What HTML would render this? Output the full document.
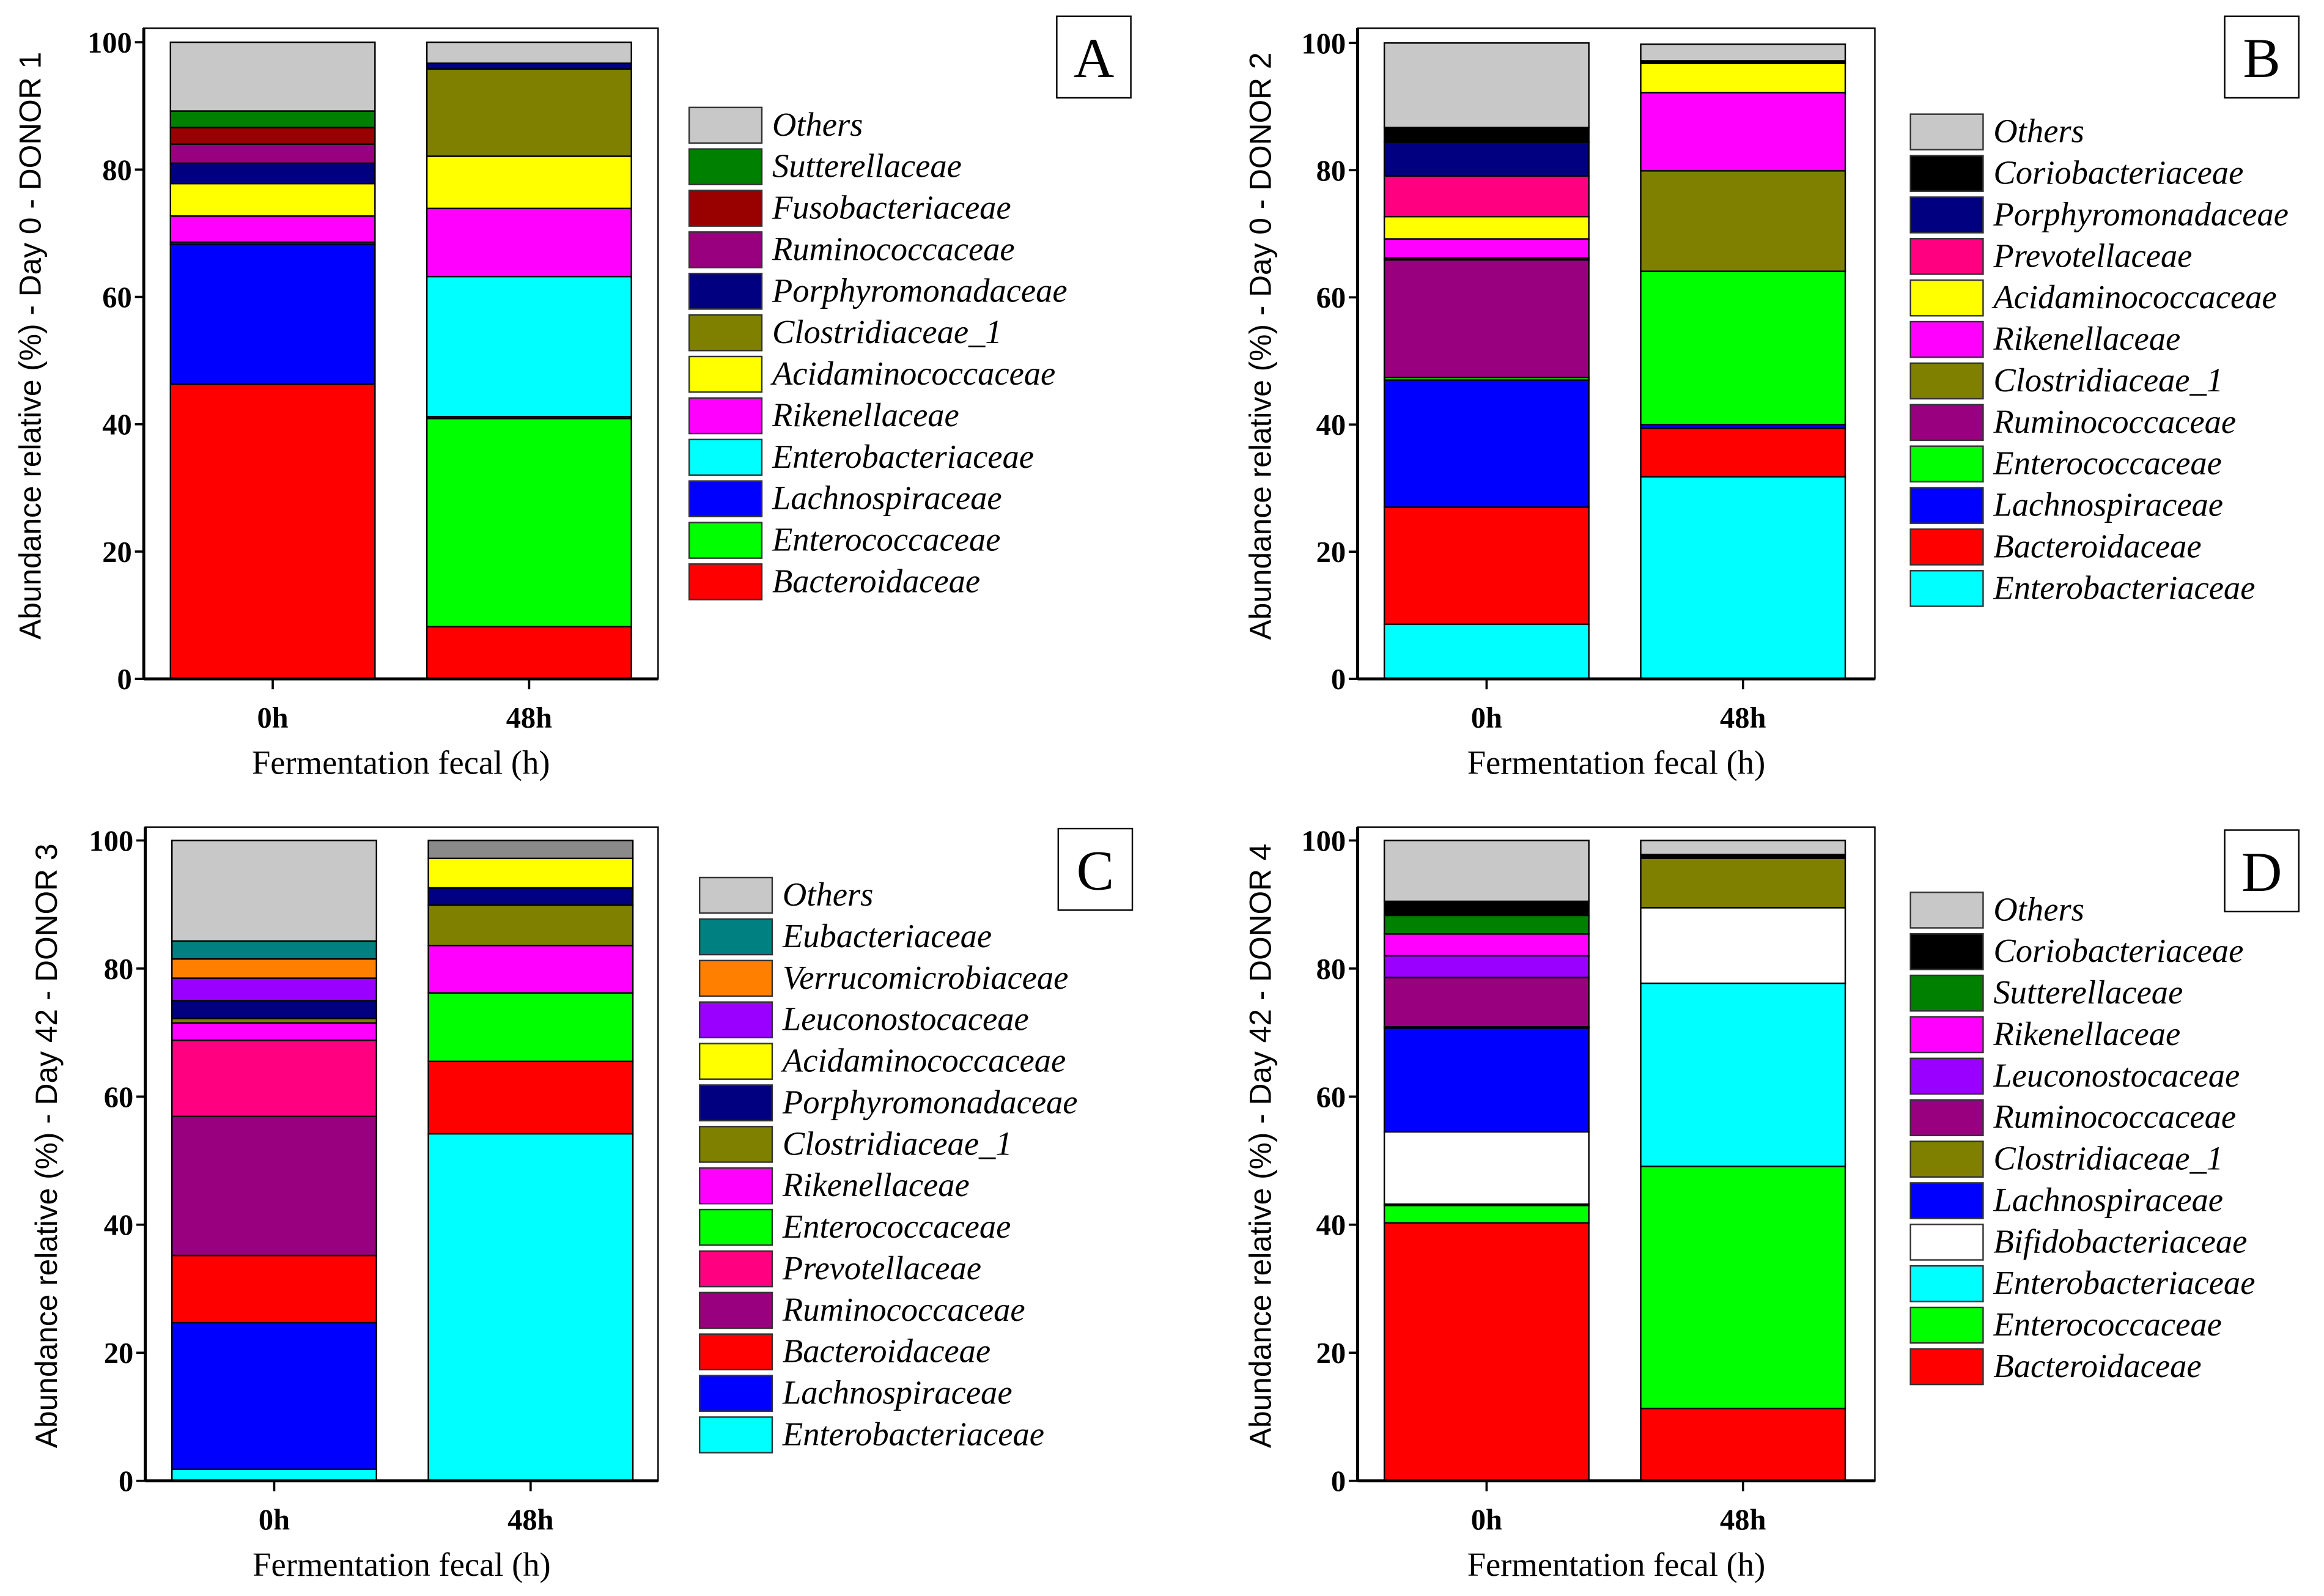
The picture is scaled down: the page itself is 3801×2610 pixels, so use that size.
<!DOCTYPE html>
<html><head><meta charset="utf-8"><style>
html,body{margin:0;padding:0;background:#fff;}
svg{display:block;}
</style></head><body>
<svg id="fig" xmlns="http://www.w3.org/2000/svg" width="3801" height="2610" viewBox="0 0 1568 1076.7">
<rect x="0" y="0" width="1568" height="1076.7" fill="#fff"/>
</svg>
<script>
const COLORS = {
  "Others":"#c8c8c8","Sutterellaceae":"#008000","Fusobacteriaceae":"#990000","Ruminococcaceae":"#99007f",
  "Porphyromonadaceae":"#000080","Clostridiaceae_1":"#808000","Acidaminococcaceae":"#ffff00","Rikenellaceae":"#ff00ff",
  "Enterobacteriaceae":"#00ffff","Lachnospiraceae":"#0000ff","Enterococcaceae":"#00ff00","Bacteroidaceae":"#ff0000",
  "Coriobacteriaceae":"#000000","Prevotellaceae":"#ff0080","Eubacteriaceae":"#008080","Verrucomicrobiaceae":"#ff8000",
  "Leuconostocaceae":"#9900ff","Bifidobacteriaceae":"#ffffff"
};
const timePoints = ["0h","48h"];
const yTicks = [0,20,40,60,80,100];

// Panel A
const famA = ["Bacteroidaceae","Enterococcaceae","Lachnospiraceae","Enterobacteriaceae","Rikenellaceae","Acidaminococcaceae","Clostridiaceae_1","Porphyromonadaceae","Ruminococcaceae","Fusobacteriaceae","Sutterellaceae","Others"];
const a0h  = [46.3,0,22.0,0.3,4.1,5.1,0,3.2,3.0,2.6,2.6,10.8];
const a48h = [8.2,32.7,0.3,22.0,10.7,8.2,13.7,0.9,0,0,0,3.3];
// Panel B
const famB = ["Enterobacteriaceae","Bacteroidaceae","Lachnospiraceae","Enterococcaceae","Ruminococcaceae","Clostridiaceae_1","Rikenellaceae","Acidaminococcaceae","Prevotellaceae","Porphyromonadaceae","Coriobacteriaceae","Others"];
const b0h  = [8.6,18.4,20.0,0.4,18.5,0.3,3.0,3.5,6.4,5.3,2.3,13.3];
const b48h = [31.8,7.6,0.6,24.1,0,15.8,12.3,4.6,0,0,0.4,2.6];
// Panel C
const famC = ["Enterobacteriaceae","Lachnospiraceae","Bacteroidaceae","Ruminococcaceae","Prevotellaceae","Enterococcaceae","Rikenellaceae","Clostridiaceae_1","Porphyromonadaceae","Acidaminococcaceae","Leuconostocaceae","Verrucomicrobiaceae","Eubacteriaceae","Others"];
const c0h  = [1.8,22.9,10.5,21.7,11.9,0,2.7,0.7,2.8,0,3.5,3.0,2.8,15.7];
const c48h = [54.2,0,11.3,0,0,10.7,7.4,6.3,2.7,4.6,0,0,0,2.8];
// Panel D
const famD = ["Bacteroidaceae","Enterococcaceae","Enterobacteriaceae","Bifidobacteriaceae","Lachnospiraceae","Clostridiaceae_1","Ruminococcaceae","Leuconostocaceae","Rikenellaceae","Sutterellaceae","Coriobacteriaceae","Others"];
const d0h  = [40.3,2.7,0.2,11.3,16.2,0.2,7.7,3.4,3.4,2.9,2.2,9.5];
const d48h = [11.3,37.8,28.6,11.8,0,7.7,0,0,0,0,0.6,2.2];

const panels = [
  {id:"a",letter:"A",title:"Abundance relative (%) - Day 0 - DONOR 1",fam:famA,vals:[a0h,a48h],fx:97,fx2:444,ftop:19,y100:28.5,y0:458,lx:465,ly:72.5,bx:713,by:11,tx:22,top48:null},
  {id:"b",letter:"B",title:"Abundance relative (%) - Day 0 - DONOR 2",fam:famB,vals:[b0h,b48h],fx:916,fx2:1265,ftop:19,y100:29,y0:458,lx:1289,ly:77,bx:1501,by:11,tx:852,top48:null},
  {id:"c",letter:"C",title:"Abundance relative (%) - Day 42 - DONOR 3",fam:famC,vals:[c0h,c48h],fx:98,fx2:444,ftop:558,y100:567,y0:999,lx:472,ly:592,bx:714,by:559,tx:33,top48:"#8a8a8a"},
  {id:"d",letter:"D",title:"Abundance relative (%) - Day 42 - DONOR 4",fam:famD,vals:[d0h,d48h],fx:916,fx2:1265,ftop:558,y100:567,y0:999,lx:1289,ly:602,bx:1501,by:560,tx:852,top48:null}
];

const NS = "http://www.w3.org/2000/svg";
const svg = document.getElementById("fig");
function mk(tag, attrs, parent){
  const e = document.createElementNS(NS, tag);
  for (const k in attrs) e.setAttribute(k, attrs[k]);
  (parent||svg).appendChild(e);
  return e;
}

panels.forEach(p => {
  const g = mk("g", {});
  
  
  const ys = v => p.y0 - (v/100)*(p.y0 - p.y100);
  const barX = [p.fx + 18, p.fx + 191];
  const barW = 138;

  p.vals.forEach((series, ti) => {
    let cum = 0;
    series.forEach((v, si) => {
      if (v <= 0) return;
      const yTop = ys(cum + v), yBot = ys(cum);
      let fill = COLORS[p.fam[si]];
      if (ti === 1 && si === series.length - 1 && p.top48) fill = p.top48;
      const r = mk("rect", {x:barX[ti], y:yTop, width:barW, height:Math.max(yBot - yTop, 0.6), fill:fill, stroke:"#000", "stroke-width":1}, g);
      
      
      cum += v;
    });
  });

  const fr = mk("rect", {x:p.fx, y:p.ftop, width:p.fx2 - p.fx, height:p.y0 - p.ftop, fill:"none", stroke:"#000", "stroke-width":1}, g);
  
  
  const ax = mk("line", {x1:p.fx, y1:p.ftop, x2:p.fx, y2:p.y0, stroke:"#000", "stroke-width":2}, g);
  
  
  const bx = mk("line", {x1:p.fx, y1:p.y0, x2:p.fx2, y2:p.y0, stroke:"#000", "stroke-width":2}, g);
  
  

  yTicks.forEach(t => {
    const y = ys(t);
    mk("line", {x1:p.fx - 6, y1:y, x2:p.fx, y2:y, stroke:"#000", "stroke-width":1.5}, g);
    const tl = mk("text", {x:p.fx - 8, y:y + 7, "text-anchor":"end", "font-family":"Liberation Serif, serif", "font-weight":"bold", "font-size":20}, g);
    tl.textContent = t;
    
    
  });
  timePoints.forEach((tp, i) => {
    const cx = barX[i] + barW/2;
    mk("line", {x1:cx, y1:p.y0, x2:cx, y2:p.y0 + 7, stroke:"#000", "stroke-width":1.5}, g);
    const xl = mk("text", {x:cx, y:p.y0 + 33, "text-anchor":"middle", "font-family":"Liberation Serif, serif", "font-weight":"bold", "font-size":20}, g);
    xl.textContent = tp;
    
    
  });
  const xt = mk("text", {x:(p.fx + p.fx2)/2, y:p.y0 + 64, "text-anchor":"middle", "font-family":"Liberation Serif, serif", "font-size":22.5}, g);
  xt.textContent = "Fermentation fecal (h)";
  
  
  const cy = (p.y100 + p.y0)/2 - 10;
  const yt = mk("text", {x:p.tx, y:cy, transform:"rotate(-90 " + p.tx + " " + cy + ")", "text-anchor":"middle", "dominant-baseline":"middle", "font-family":"Liberation Sans, sans-serif", "font-size":20.5}, g);
  yt.textContent = p.title;
  
  

  const lb = mk("rect", {x:p.bx, y:p.by, width:50, height:55, fill:"#fff", stroke:"#000", "stroke-width":1}, g);
  
  
  const lt = mk("text", {x:p.bx + 25, y:p.by + 41, "text-anchor":"middle", "font-family":"Liberation Serif, serif", "font-size":38}, g);
  lt.textContent = p.letter;
  
  

  const leg = p.fam.slice().reverse();
  leg.forEach((f, i) => {
    const y = p.ly + i*28;
    const sw = mk("rect", {x:p.lx, y:y, width:49, height:24, fill:COLORS[f], stroke:"#333", "stroke-width":1}, g);
    
    
    const lt2 = mk("text", {x:p.lx + 56, y:y + 19, "font-family":"Liberation Serif, serif", "font-style":"italic", "font-size":22.5}, g);
    lt2.textContent = f;
    
    
  });
});
</script>
</body></html>
